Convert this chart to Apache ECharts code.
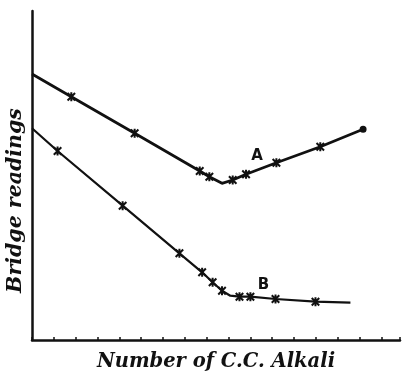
<!DOCTYPE html>
<html>
<head>
<meta charset="utf-8">
<script src="https://cdn.jsdelivr.net/npm/echarts@6/dist/echarts.min.js"></script>
<style>
  html, body { margin: 0; padding: 0; background: #fff; }
  #chart { width: 402px; height: 373px; }
</style>
</head>
<body>
<div id="chart"></div>
<script>
// Conductometric titration: bridge readings against c.c. of alkali added.
const curveAX = [0, 1.80, 4.70, 7.68, 8.12, 8.70, 9.19, 9.80, 11.19, 13.20, 15.16];
const curveAY = [26.6, 24.33, 20.67, 16.9, 16.33, 15.67, 16.0, 16.57, 17.73, 19.33, 21.07];
const curveAMarks = ['', 'x', 'x', 'x', 'x', '', 'x', 'x', 'x', 'x', 'dot'];

const curveBX = [0, 1.17, 4.15, 6.75, 7.79, 8.27, 8.70, 9.08, 9.50, 10.0, 11.15, 12.98, 14.58];
const curveBY = [21.17, 18.9, 13.43, 8.67, 6.77, 5.77, 4.93, 4.43, 4.33, 4.33, 4.1, 3.83, 3.73];
const curveBMarks = ['', 'x', 'x', 'x', 'x', 'x', 'x', '', 'x', 'x', 'x', 'x', ''];

const curveNames = ['A', 'B'];
const curveLabelPos = [[10.31, 18.4], [10.6, 5.5]];

const xTitle = 'Number of C.C. Alkali';
const yTitle = 'Bridge readings';

const INK = '#111';
const STAR = 'path://M0,0L10,10M10,0L0,10M5,-1L5,11';

function points(xs, ys, marks) {
  return xs.map(function (x, i) {
    const item = { value: [x, ys[i]] };
    if (marks[i] === 'x') {
      item.symbol = STAR;
      item.symbolSize = 9;
    } else if (marks[i] === 'dot') {
      item.symbol = 'circle';
      item.symbolSize = 5;
    } else {
      item.symbol = 'none';
    }
    return item;
  });
}

function curve(name, xs, ys, marks, width, labelAt) {
  return {
    type: 'line',
    name: name,
    data: points(xs, ys, marks),
    showSymbol: true,
    symbolKeepAspect: true,
    lineStyle: { color: INK, width: width },
    itemStyle: { color: INK, borderColor: INK, borderWidth: 2 },
    animation: false,
    markPoint: {
      symbol: 'circle',
      symbolSize: 1,
      itemStyle: { color: 'rgba(0,0,0,0)' },
      data: [{ coord: labelAt, value: name }],
      label: {
        show: true,
        position: 'inside',
        formatter: name,
        color: INK,
        fontFamily: 'DejaVu Sans',
        fontWeight: 'bold',
        fontSize: 15
      }
    }
  };
}

const chart = echarts.init(document.getElementById('chart'), null, { renderer: 'canvas' });
chart.setOption({
  backgroundColor: '#fff',
  animation: false,
  grid: { left: 32, right: 2, top: 11, bottom: 33, containLabel: false, outerBoundsMode: 'none' },
  xAxis: {
    type: 'value',
    min: 0,
    max: 16.85,
    interval: 1,
    name: xTitle,
    nameLocation: 'middle',
    nameGap: 12,
    nameTextStyle: {
      fontFamily: 'DejaVu Serif',
      fontStyle: 'italic',
      fontWeight: 'bold',
      fontSize: 19.5,
      color: INK
    },
    axisLine: { lineStyle: { color: INK, width: 2.5 } },
    axisTick: { show: true, inside: true, length: 3, lineStyle: { color: INK, width: 1.5 } },
    axisLabel: { show: false },
    splitLine: { show: false }
  },
  yAxis: {
    type: 'value',
    min: 0,
    max: 32.9,
    name: yTitle,
    nameLocation: 'middle',
    nameGap: 6,
    nameRotate: 90,
    nameTextStyle: {
      fontFamily: 'DejaVu Serif',
      fontStyle: 'italic',
      fontWeight: 'bold',
      fontSize: 20.5,
      color: INK,
      padding: [0, 50, 0, 0]
    },
    axisLine: { show: true, lineStyle: { color: INK, width: 2.5 } },
    axisTick: { show: false },
    axisLabel: { show: false },
    splitLine: { show: false }
  },
  series: [
    curve(curveNames[0], curveAX, curveAY, curveAMarks, 2.8, curveLabelPos[0]),
    curve(curveNames[1], curveBX, curveBY, curveBMarks, 2.2, curveLabelPos[1])
  ]
});
</script>
</body>
</html>
